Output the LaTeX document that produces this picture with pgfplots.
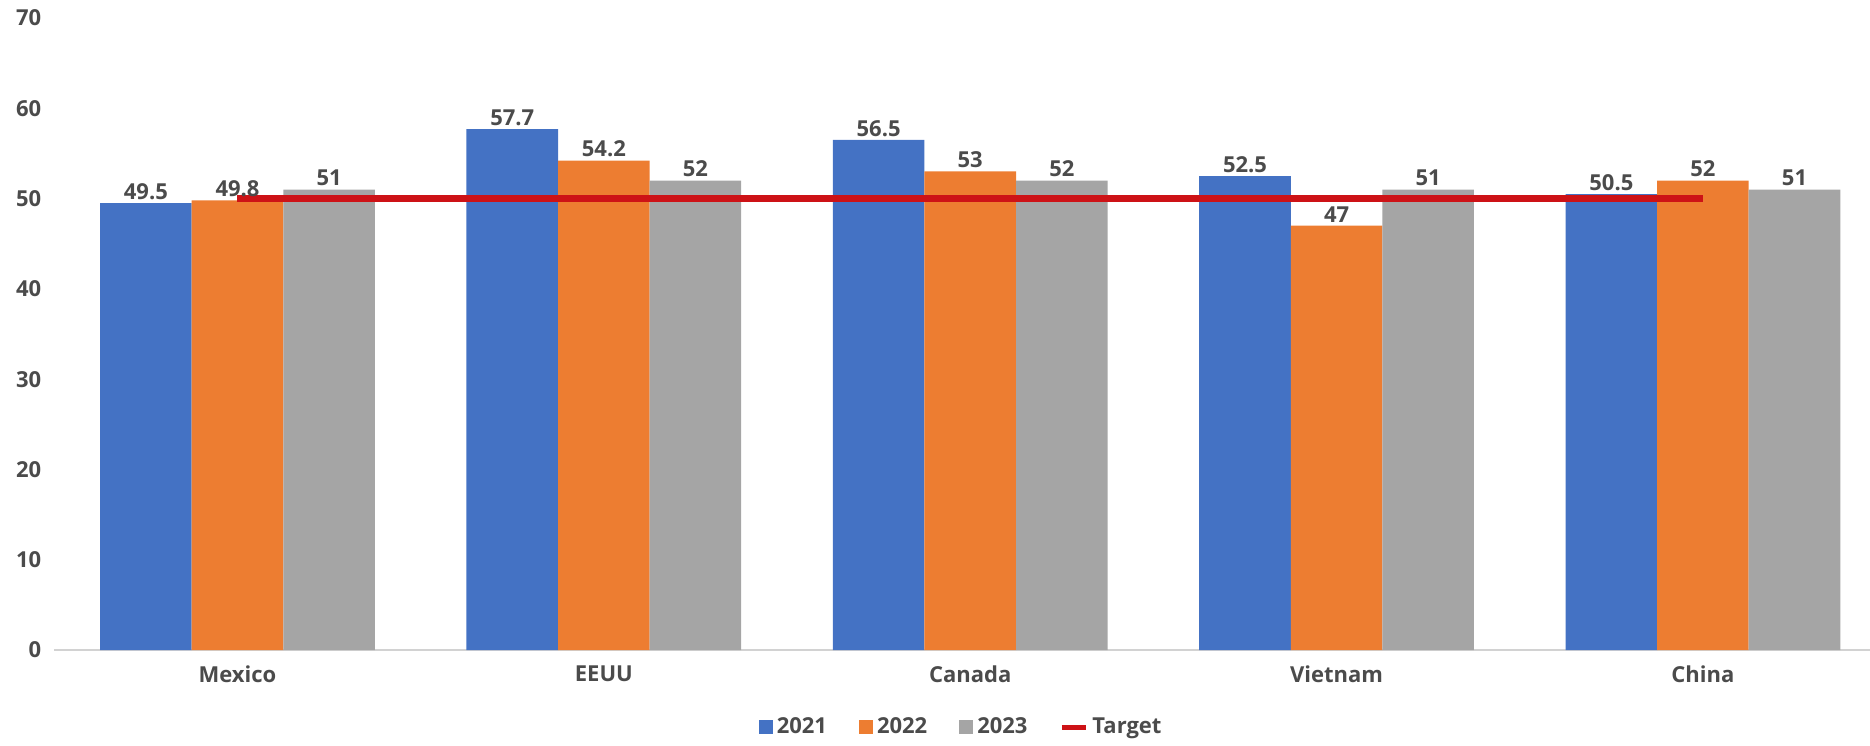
\documentclass[border=0pt]{standalone}
\usepackage{pgfplots}
\pgfplotsset{compat=1.18}
\usepackage{fontspec}
\setmainfont{Open Sans}
\definecolor{cA}{RGB}{68,114,196}
\definecolor{cB}{RGB}{237,125,49}
\definecolor{cC}{RGB}{165,165,165}
\definecolor{cT}{RGB}{205,18,22}
\definecolor{txt}{RGB}{75,75,75}
\definecolor{axl}{RGB}{210,210,210}
\pgfplotstableread{
x y21 y22 y23
0 49.5 49.8 51
1 57.7 54.2 52
2 56.5 53 52
3 52.5 47 51
4 50.5 52 51
}\data
\pgfplotstableread{
x t
0 50
1 50
2 50
3 50
4 50
}\target
\begin{document}
\begin{tikzpicture}
\path[use as bounding box] (0,0) rectangle (935pt,372.5pt);
\begin{axis}[
  at={(27.15pt,47.5pt)}, anchor=south west,
  scale only axis, width=907.85pt, height=316pt,
  xmin=-0.5, xmax=4.456, ymin=0, ymax=70,
  ytick={0,10,...,70},
  xtick={0,1,2,3,4}, xticklabels={Mexico,EEUU,Canada,Vietnam,China},
  axis x line*=bottom, axis y line*=left,
  y axis line style={draw=none},
  x axis line style={draw=axl, line width=1pt, -},
  major tick length=0pt,
  tick label style={font=\bfseries\fontsize{11}{12}\selectfont, text=txt},
  yticklabel style={xshift=-3pt},
  xticklabel style={yshift=-4.5pt},
  /pgf/number format/assume math mode=true,
  ybar, bar width=0.25,
  nodes near coords,
  nodes near coords style={font=\bfseries\fontsize{11}{12}\selectfont, text=txt, inner sep=1.5pt},
  legend columns=4,
  legend style={at={(0.5,-0.122)}, anchor=center, draw=none, fill=none,
    font=\bfseries\fontsize{11}{12}\selectfont, text=txt,
    /tikz/every even column/.append style={column sep=14pt}},
  legend cell align=left,
]
\addplot[fill=cA, draw=none, bar shift=-0.25, area legend,
  legend image code/.code={\fill[cA] (0pt,-3.5pt) rectangle (7pt,3.5pt);}] table[x=x,y=y21]{\data};
\addlegendentry{2021}
\addplot[fill=cB, draw=none, bar shift=0, area legend,
  legend image code/.code={\fill[cB] (0pt,-3.5pt) rectangle (7pt,3.5pt);}] table[x=x,y=y22]{\data};
\addlegendentry{2022}
\addplot[fill=cC, draw=none, bar shift=0.25, area legend,
  legend image code/.code={\fill[cC] (0pt,-3.5pt) rectangle (7pt,3.5pt);}] table[x=x,y=y23]{\data};
\addlegendentry{2023}
\addplot[sharp plot, cT, line width=3.5pt, nodes near coords=, no marks,
  legend image code/.code={\draw[cT, line width=2.5pt] (0pt,0pt) -- (12pt,0pt);}] table[x=x,y=t]{\target};
\addlegendentry{Target}
\end{axis}
\end{tikzpicture}
\end{document}
